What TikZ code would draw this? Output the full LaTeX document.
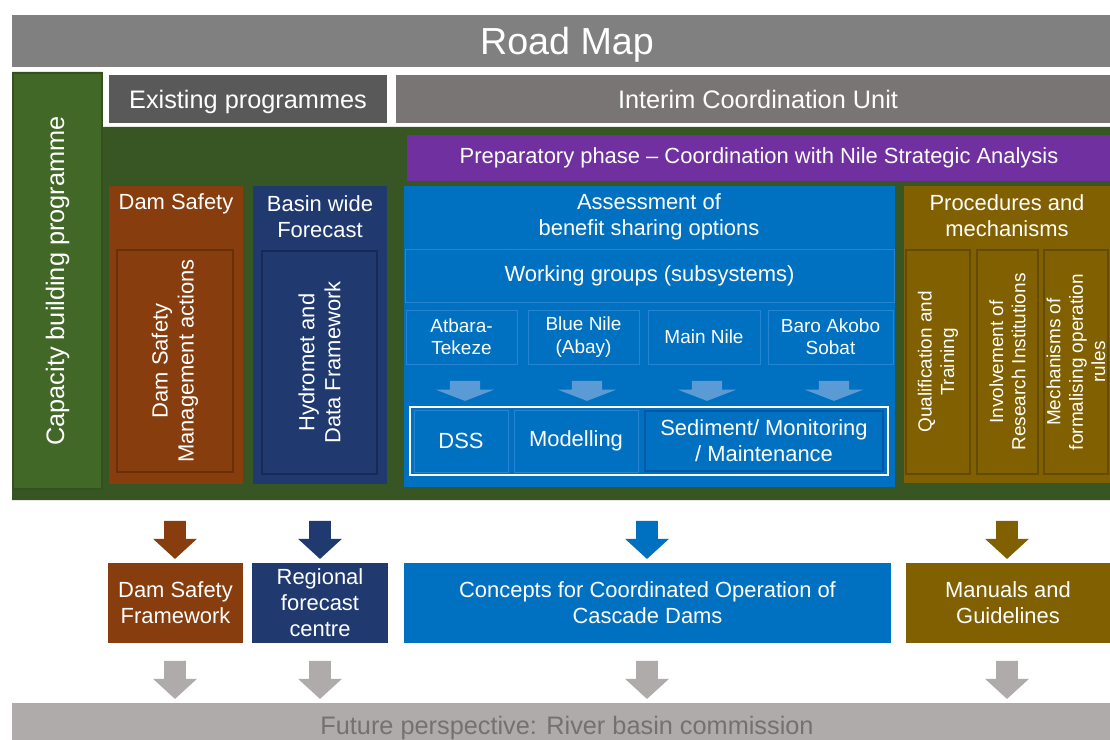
\documentclass[tikz,border=0pt]{standalone}
\usepackage{fontspec}
\setmainfont{Liberation Sans}
\usetikzlibrary{shapes.arrows}
\newcommand{\px}{0.025cm}
\newcommand{\fshuge}{\fontsize{26.8}{32}\selectfont}
\newcommand{\fslarge}{\fontsize{18}{21.6}\selectfont}
\newcommand{\fsmid}{\fontsize{15.6}{18.5}\selectfont}
\newcommand{\fssmall}{\fontsize{13.5}{15.9}\selectfont}
\definecolor{roadgray}{RGB}{128,128,128}
\definecolor{greenmain}{RGB}{55,86,35}
\definecolor{greencol}{RGB}{66,104,40}
\definecolor{greenedge}{RGB}{52,82,32}
\definecolor{exgray}{RGB}{89,89,89}
\definecolor{icugray}{RGB}{122,117,117}
\definecolor{prepurple}{RGB}{112,48,160}
\definecolor{dambrown}{RGB}{135,61,13}
\definecolor{dambrowndark}{RGB}{105,46,10}
\definecolor{basinnavy}{RGB}{32,58,112}
\definecolor{basinnavydark}{RGB}{22,42,88}
\definecolor{assessblue}{RGB}{0,112,192}
\definecolor{blueline}{RGB}{38,132,210}
\definecolor{bluedark}{RGB}{0,88,165}
\definecolor{flatblue}{RGB}{91,155,213}
\definecolor{procolive}{RGB}{128,96,0}
\definecolor{olivedark}{RGB}{100,75,5}
\definecolor{futuregray}{RGB}{175,171,171}
\definecolor{futuretext}{RGB}{118,113,113}

\begin{document}
\begin{tikzpicture}[x=\px, y=-\px,
    box/.style={rectangle, inner sep=0pt, align=center, text=white, font=\fsmid},
    dims/.style 2 args={minimum width=#1*\px, minimum height=#2*\px},
    frame/.style={draw=white, line width=1.4pt},
    vtext/.style={rotate=90, align=center, text=white, font=\fsmid},
    downarrow/.style={single arrow, rotate=-90, draw=none, inner sep=0pt,
        inner ysep=7.5pt, single arrow head extend=7.8pt,
        minimum height=27pt, single arrow tip angle=95},
    flatarrow/.style={single arrow, rotate=-90, draw=none, inner sep=0pt,
        inner ysep=10.6pt, single arrow head extend=10pt,
        minimum height=14.2pt, single arrow tip angle=138, fill=flatblue}]
    \useasboundingbox (0,0) rectangle (1110,740);

    \node[box, dims={1110}{52}, fill=roadgray, font=\fshuge, text depth=0pt] (roadmap) at (567,41) {Road Map};
    \fill[greenmain] (12,72) -- (102,72) -- (102,127) -- (1122,127) -- (1122,500) -- (12,500) -- cycle;
    \node[box, dims={89}{416}, fill=greencol, draw=greenedge, line width=1pt] (capacity) at (57.5,281) {};
    \node[vtext, font=\fslarge] at (capacity) {Capacity building programme};

    \node[box, frame, dims={280}{50}, fill=exgray, font=\fslarge, text depth=0pt] (existing) at (248,99) {Existing programmes};
    \node[box, frame, dims={726}{50}, fill=icugray, font=\fslarge] (icu) at (758,99) {Interim Coordination Unit};
    \node[box, dims={704}{46}, fill=prepurple] (prep) at (759,158) {Preparatory phase -- Coordination with Nile Strategic Analysis};

    \node[box, dims={134}{298}, fill=dambrown] (damsafety) at (176,335) {};
    \node[box] at (176,204) {Dam Safety};
    \node[box, dims={116}{222}, draw=dambrowndark, line width=1pt] (damactions) at (175,361) {};
    \node[vtext] at (damactions) {Dam Safety\\Management actions};

    \node[box, dims={134}{298}, fill=basinnavy] (basin) at (320,335) {};
    \node[box] at (320,217) {Basin wide\\Forecast};
    \node[box, dims={115}{223}, draw=basinnavydark, line width=1pt] (hydromet) at (319.5,362.5) {};
    \node[vtext] at (hydromet) {Hydromet and\\Data Framework};

    \node[box, dims={491}{301}, fill=assessblue] (assess) at (649.5,336.5) {};
    \node[box] at (649,217) {Assessment of\\benefit sharing options};
    \node[box, dims={489}{53}, draw=blueline] (groups) at (649.5,276) {Working groups (subsystems)};
    \node[box, dims={111}{54}, draw=blueline, font=\fssmall] (atbara) at (461.5,337) {Atbara-\\Tekeze};
    \node[box, dims={111}{54}, draw=blueline, font=\fssmall] (bluenile) at (583.5,337) {Blue Nile\\(Abay)};
    \node[box, dims={112}{54}, draw=blueline, font=\fssmall] (mainnile) at (704,337) {Main Nile};
    \node[box, dims={125}{54}, draw=blueline, font=\fssmall] (baro) at (830.5,337) {Baro Akobo\\Sobat};
    \node[flatarrow] (wa1) at (465,388) {};
    \node[flatarrow] (wa2) at (587,388) {};
    \node[flatarrow] (wa3) at (707,388) {};
    \node[flatarrow] (wa4) at (834,388) {};
    \node[box, dims={478}{68}, draw=white, line width=1.4pt] (tools) at (649,441) {};
    \node[box, dims={94}{62}, draw=blueline] (dss) at (461,441) {DSS};
    \node[box, dims={124}{62}, draw=blueline] (modelling) at (576,441) {Modelling};
    \node[box, dims={238}{60}, draw=bluedark, line width=1pt] (sediment) at (764,441) {Sediment/ Monitoring\\/ Maintenance};

    \node[box, dims={206}{297}, fill=procolive] (procedures) at (1007,334.5) {};
    \node[box] at (1007,216) {Procedures and\\mechanisms};
    \node[box, dims={64}{224}, draw=olivedark, line width=1pt] (qualif) at (938,362) {};
    \node[vtext, font=\fssmall] at (qualif) {Qualification and\\Training};
    \node[box, dims={61}{224}, draw=olivedark, line width=1pt] (research) at (1007.5,362) {};
    \node[vtext, font=\fssmall] at (research) {Involvement of\\Research Institutions};
    \node[box, dims={64}{224}, draw=olivedark, line width=1pt] (mechan) at (1076,362) {};
    \node[vtext, font=\fssmall] at (mechan) {Mechanisms of\\formalising operation\\rules};

    \node[downarrow, fill=dambrown] (ar1) at (175,535) {};
    \node[downarrow, fill=basinnavy] (ar2) at (320,535) {};
    \node[downarrow, fill=assessblue] (ar3) at (647,535) {};
    \node[downarrow, fill=procolive] (ar4) at (1007,535) {};

    \node[box, dims={135}{80}, fill=dambrown] (dsframe) at (175.5,603) {Dam Safety\\Framework};
    \node[box, dims={136}{80}, fill=basinnavy] (regional) at (320,603) {Regional\\forecast\\centre};
    \node[box, dims={487}{80}, fill=assessblue] (concepts) at (647.5,603) {Concepts for Coordinated Operation of\\Cascade Dams};
    \node[box, dims={204}{80}, fill=procolive] (manuals) at (1008,603) {Manuals and\\Guidelines};

    \node[downarrow, fill=futuregray] (gr1) at (175,675) {};
    \node[downarrow, fill=futuregray] (gr2) at (320,675) {};
    \node[downarrow, fill=futuregray] (gr3) at (647,675) {};
    \node[downarrow, fill=futuregray] (gr4) at (1007,675) {};

    \node[box, dims={1110}{50}, fill=futuregray, text=futuretext, font=\fslarge] (future) at (567,728) {Future perspective: River basin commission};
\end{tikzpicture}
\end{document}
